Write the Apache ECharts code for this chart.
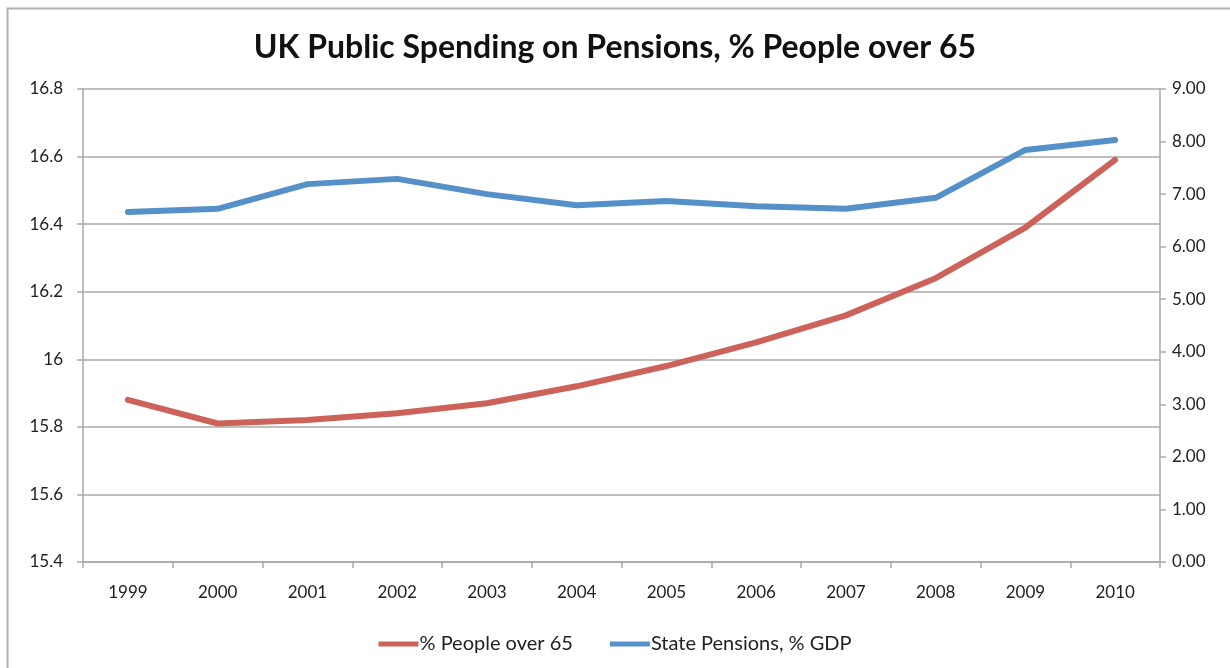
<!DOCTYPE html>
<html>
<head>
<meta charset="utf-8">
<title>UK Public Spending on Pensions</title>
<script src="https://cdn.jsdelivr.net/npm/echarts@6/dist/echarts.min.js"></script>
<style>
  html, body { margin: 0; padding: 0; background: #ffffff; }
  #chart { width: 1230px; height: 668px; }
</style>
</head>
<body>
<div id="chart"></div>
<script>
// Years on the category axis
const years = ['1999', '2000', '2001', '2002', '2003', '2004', '2005', '2006', '2007', '2008', '2009', '2010'];

// Share of the population aged over 65 (left axis)
const peopleOver65 = [15.88, 15.81, 15.82, 15.84, 15.87, 15.92, 15.98, 16.05, 16.13, 16.24, 16.39, 16.59];

// State pension spending as % of GDP (right axis)
const statePensionsGdp = [6.66, 6.72, 7.19, 7.29, 7.00, 6.79, 6.87, 6.77, 6.72, 6.93, 7.84, 8.03];

const seriesNames = ['% People over 65', 'State Pensions, % GDP'];

const FONT = 'Lato, "Open Sans", sans-serif';
const GREY = '#A9A9A9';
const RED = '#CC6259';
const BLUE = '#5590C8';

const chart = echarts.init(document.getElementById('chart'), null, { renderer: 'canvas' });

chart.setOption({
  animation: false,
  backgroundColor: '#ffffff',
  textStyle: { fontFamily: FONT },
  graphic: [{
    type: 'rect',
    shape: { x: 7.5, y: 8.5, width: 1240, height: 680 },
    style: { fill: 'none', stroke: '#B0B0B0', lineWidth: 2 },
    silent: true
  }],
  title: {
    text: 'UK Public Spending on Pensions, % People over 65',
    left: 'center',
    top: 27,
    textStyle: { fontFamily: FONT, fontSize: 32, fontWeight: 'bold', color: '#111111' }
  },
  legend: {
    data: seriesNames,
    bottom: 9,
    left: 'center',
    icon: 'rect',
    itemWidth: 40,
    itemHeight: 5,
    itemGap: 37,
    textStyle: { fontFamily: FONT, fontSize: 20, color: '#222222', padding: [0, 0, 0, -4] }
  },
  grid: { left: 83, right: 70, top: 89, bottom: 106, containLabel: false },
  xAxis: {
    type: 'category',
    data: years,
    boundaryGap: true,
    axisLine: { lineStyle: { color: GREY, width: 1.5 } },
    axisTick: { show: true, length: 6, alignWithLabel: false, lineStyle: { color: GREY, width: 1.5 } },
    axisLabel: { fontFamily: FONT, fontSize: 17, color: '#222222', margin: 22 }
  },
  yAxis: [{
    type: 'value',
    min: 15.4,
    max: 16.8,
    interval: 0.2,
    position: 'left',
    axisLine: { show: true, lineStyle: { color: GREY, width: 1.5 } },
    axisTick: { show: true, length: 6, lineStyle: { color: GREY, width: 1.5 } },
    splitLine: { show: true, lineStyle: { color: GREY, width: 1.5 } },
    axisLabel: {
      fontFamily: FONT, fontSize: 17, color: '#222222', margin: 20,
      formatter: v => String(parseFloat(v.toFixed(1)))
    }
  }, {
    type: 'value',
    min: 0,
    max: 9,
    interval: 1,
    position: 'right',
    axisLine: { show: true, lineStyle: { color: GREY, width: 1.5 } },
    axisTick: { show: true, length: 6, lineStyle: { color: GREY, width: 1.5 } },
    splitLine: { show: false },
    axisLabel: {
      fontFamily: FONT, fontSize: 17, color: '#222222', margin: 12,
      formatter: v => v.toFixed(2)
    }
  }],
  series: [{
    name: seriesNames[0],
    type: 'line',
    yAxisIndex: 0,
    data: peopleOver65,
    showSymbol: false,
    symbol: 'none',
    color: RED,
    lineStyle: { color: RED, width: 6, cap: 'round', join: 'round' }
  }, {
    name: seriesNames[1],
    type: 'line',
    yAxisIndex: 1,
    data: statePensionsGdp,
    showSymbol: false,
    symbol: 'none',
    color: BLUE,
    lineStyle: { color: BLUE, width: 6, cap: 'round', join: 'round' }
  }]
});
</script>
</body>
</html>
